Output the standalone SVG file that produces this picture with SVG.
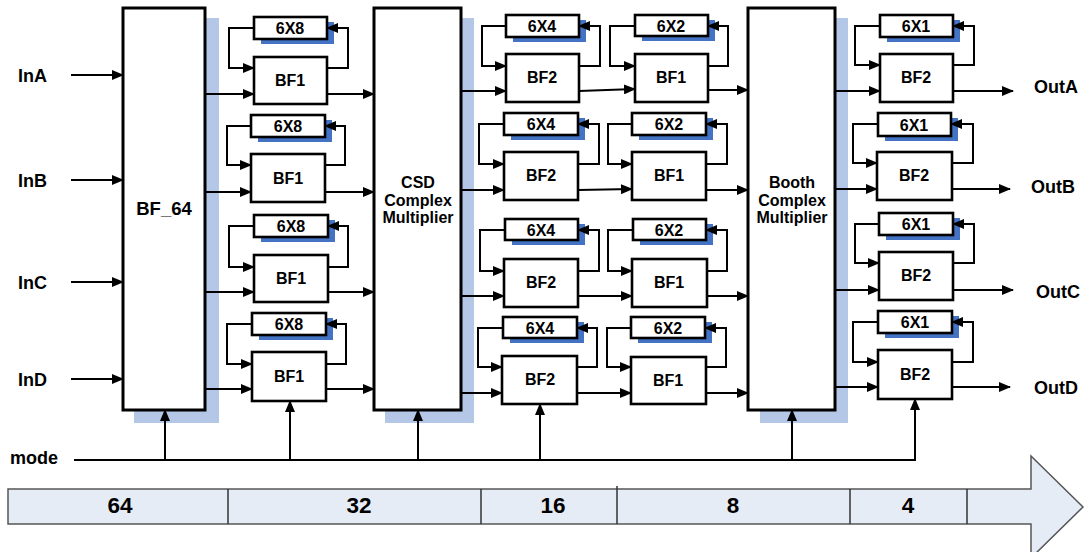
<svg xmlns="http://www.w3.org/2000/svg" width="1086" height="552" viewBox="0 0 1086 552">
<style>
text{font-family:"Liberation Sans",Arial,sans-serif;font-weight:bold;fill:#000}
.big{fill:#fff;stroke:#000;stroke-width:3}
.sh{fill:#b4c7e7}
.reg{fill:#fff;stroke:#000;stroke-width:2.6}
.rsh{fill:#4472c4}
.bf{fill:#fff;stroke:#000;stroke-width:2.6}
.ln{fill:none;stroke:#000;stroke-width:2}
.ar{fill:none;stroke:#000;stroke-width:2;marker-end:url(#ah)}
.t14{font-size:16px;text-anchor:middle}
.t15{font-size:16px;text-anchor:middle}
.t16{font-size:16px;text-anchor:middle}
.lab{font-size:18px}
.num{font-size:22.5px;text-anchor:middle}
</style>
<defs>
<marker id="ah" markerUnits="userSpaceOnUse" markerWidth="12" markerHeight="10" refX="11" refY="5" orient="auto">
<path d="M0,0 L12,5 L0,10 Z" fill="#000"/>
</marker>
</defs>
<rect width="1086" height="552" fill="#fff"/>

<!-- bottom stage arrow -->
<g id="stage-bar">
<polygon points="8,489 1031,489 1031,456 1083,507 1031,558 1031,524 8,524" fill="#e6ecf6" stroke="#555" stroke-width="1.5"/>
<g stroke="#333" stroke-width="1.5">
<line x1="228" y1="489" x2="228" y2="524"/>
<line x1="481" y1="489" x2="481" y2="524"/>
<line x1="617" y1="486" x2="617" y2="524"/>
<line x1="850" y1="489" x2="850" y2="524"/>
<line x1="967" y1="489" x2="967" y2="524"/>
</g>
<text class="num" x="120" y="513">64</text>
<text class="num" x="359" y="513">32</text>
<text class="num" x="553" y="513">16</text>
<text class="num" x="733" y="513">8</text>
<text class="num" x="908" y="513">4</text>
</g>

<!-- big blocks -->
<g id="bf64">
<rect class="sh" x="134" y="18" width="85" height="405"/>
<rect class="big" x="123" y="8" width="82" height="402"/>
<text x="164" y="215" style="font-size:18.5px;text-anchor:middle">BF_64</text>
</g>
<g id="csd">
<rect class="sh" x="385" y="18" width="89" height="405"/>
<rect class="big" x="374" y="8" width="87" height="402"/>
<text class="t16" x="418" y="188">CSD</text>
<text class="t16" x="418" y="206">Complex</text>
<text class="t16" x="418" y="223">Multiplier</text>
</g>
<g id="booth">
<rect class="sh" x="760" y="18" width="88" height="405"/>
<rect class="big" x="748" y="8" width="87" height="402"/>
<text class="t16" x="792" y="188">Booth</text>
<text class="t16" x="792" y="206">Complex</text>
<text class="t16" x="792" y="223">Multiplier</text>
</g>

<!-- stage 1 -->
<g id="s1r1"><rect class="rsh" x="261" y="22" width="73" height="22"/><rect class="reg" x="254" y="17" width="73" height="22"/><text class="t14" x="290" y="34">6X8</text><rect class="bf" x="254" y="57" width="73" height="47"/><text class="t15" x="290" y="86">BF1</text></g>
<g id="s1r2"><rect class="rsh" x="258" y="120" width="74" height="22"/><rect class="reg" x="251" y="115" width="74" height="22"/><text class="t14" x="288" y="132">6X8</text><rect class="bf" x="251" y="154" width="74" height="48"/><text class="t15" x="288" y="184">BF1</text></g>
<g id="s1r3"><rect class="rsh" x="261" y="220" width="74" height="22"/><rect class="reg" x="254" y="215" width="74" height="22"/><text class="t14" x="291" y="232">6X8</text><rect class="bf" x="254" y="255" width="74" height="47"/><text class="t15" x="291" y="284">BF1</text></g>
<g id="s1r4"><rect class="rsh" x="259" y="318" width="74" height="22"/><rect class="reg" x="252" y="313" width="74" height="22"/><text class="t14" x="289" y="330">6X8</text><rect class="bf" x="252" y="352" width="74" height="49"/><text class="t15" x="289" y="382">BF1</text></g>

<!-- stage 2 -->
<g id="s2r1"><rect class="rsh" x="513" y="20" width="73" height="22"/><rect class="reg" x="506" y="15" width="73" height="22"/><text class="t14" x="542" y="32">6X4</text><rect class="bf" x="506" y="54" width="73" height="48"/><text class="t15" x="542" y="83">BF2</text></g>
<g id="s2r2"><rect class="rsh" x="511" y="118" width="74" height="22"/><rect class="reg" x="504" y="113" width="74" height="22"/><text class="t14" x="541" y="130">6X4</text><rect class="bf" x="504" y="152" width="74" height="48"/><text class="t15" x="541" y="181">BF2</text></g>
<g id="s2r3"><rect class="rsh" x="512" y="224" width="73" height="21"/><rect class="reg" x="505" y="219" width="73" height="21"/><text class="t14" x="541" y="236">6X4</text><rect class="bf" x="504" y="259" width="74" height="48"/><text class="t15" x="541" y="288">BF2</text></g>
<g id="s2r4"><rect class="rsh" x="510" y="322" width="74" height="21"/><rect class="reg" x="503" y="317" width="74" height="21"/><text class="t14" x="540" y="334">6X4</text><rect class="bf" x="502" y="356" width="75" height="48"/><text class="t15" x="540" y="385">BF2</text></g>

<!-- stage 3 -->
<g id="s3r1"><rect class="rsh" x="642" y="20" width="73" height="21"/><rect class="reg" x="635" y="15" width="73" height="21"/><text class="t14" x="671" y="32">6X2</text><rect class="bf" x="635" y="54" width="73" height="48"/><text class="t15" x="671" y="83">BF1</text></g>
<g id="s3r2"><rect class="rsh" x="639" y="118" width="74" height="22"/><rect class="reg" x="632" y="113" width="74" height="22"/><text class="t14" x="669" y="130">6X2</text><rect class="bf" x="632" y="152" width="74" height="48"/><text class="t15" x="669" y="181">BF1</text></g>
<g id="s3r3"><rect class="rsh" x="640" y="224" width="73" height="21"/><rect class="reg" x="633" y="219" width="73" height="21"/><text class="t14" x="669" y="236">6X2</text><rect class="bf" x="632" y="259" width="75" height="48"/><text class="t15" x="669" y="288">BF1</text></g>
<g id="s3r4"><rect class="rsh" x="638" y="322" width="74" height="21"/><rect class="reg" x="631" y="317" width="74" height="21"/><text class="t14" x="668" y="334">6X2</text><rect class="bf" x="631" y="357" width="75" height="47"/><text class="t15" x="668" y="386">BF1</text></g>

<!-- stage 4 -->
<g id="s4r1"><rect class="rsh" x="887" y="20" width="73" height="22"/><rect class="reg" x="880" y="15" width="73" height="22"/><text class="t14" x="916" y="32">6X1</text><rect class="bf" x="880" y="54" width="73" height="48"/><text class="t15" x="916" y="83">BF2</text></g>
<g id="s4r2"><rect class="rsh" x="885" y="118" width="73" height="23"/><rect class="reg" x="878" y="113" width="73" height="23"/><text class="t14" x="914" y="131">6X1</text><rect class="bf" x="877" y="152" width="75" height="48"/><text class="t15" x="914" y="181">BF2</text></g>
<g id="s4r3"><rect class="rsh" x="886" y="218" width="74" height="22"/><rect class="reg" x="879" y="213" width="74" height="22"/><text class="t14" x="916" y="230">6X1</text><rect class="bf" x="879" y="252" width="74" height="48"/><text class="t15" x="916" y="281">BF2</text></g>
<g id="s4r4"><rect class="rsh" x="885" y="316" width="74" height="22"/><rect class="reg" x="878" y="311" width="74" height="22"/><text class="t14" x="915" y="328">6X1</text><rect class="bf" x="878" y="350" width="74" height="49"/><text class="t15" x="915" y="380">BF2</text></g>

<!-- labels -->
<g id="labels">
<text class="lab" x="18" y="82">InA</text>
<text class="lab" x="18" y="187">InB</text>
<text class="lab" x="18" y="289">InC</text>
<text class="lab" x="18" y="386">InD</text>
<text class="lab" x="10" y="464">mode</text>
<text class="lab" x="1034" y="93">OutA</text>
<text class="lab" x="1031" y="193">OutB</text>
<text class="lab" x="1036" y="298">OutC</text>
<text class="lab" x="1034" y="394">OutD</text>
</g>

<!-- connectors -->
<g id="connectors">
<!-- inputs -->
<line class="ar" x1="71" y1="75" x2="123" y2="75"/>
<line class="ar" x1="71" y1="180" x2="123" y2="180"/>
<line class="ar" x1="71" y1="282" x2="123" y2="282"/>
<line class="ar" x1="71" y1="379" x2="123" y2="379"/>
<!-- BF64 -> stage1 -->
<line class="ar" x1="205" y1="94" x2="254" y2="94"/>
<line class="ar" x1="205" y1="192" x2="251" y2="192"/>
<line class="ar" x1="205" y1="292" x2="254" y2="292"/>
<line class="ar" x1="205" y1="389" x2="252" y2="389"/>
<!-- stage1 -> CSD -->
<line class="ar" x1="327" y1="94" x2="374" y2="94"/>
<line class="ar" x1="325" y1="192" x2="374" y2="192"/>
<line class="ar" x1="328" y1="292" x2="374" y2="292"/>
<line class="ar" x1="326" y1="389" x2="374" y2="389"/>
<!-- CSD -> stage2 -->
<line class="ar" x1="461" y1="91" x2="506" y2="91"/>
<line class="ar" x1="461" y1="190" x2="504" y2="190"/>
<line class="ar" x1="461" y1="296" x2="504" y2="296"/>
<line class="ar" x1="461" y1="393" x2="502" y2="393"/>
<!-- stage2 -> stage3 -->
<line class="ar" x1="579" y1="91" x2="635" y2="89"/>
<line class="ar" x1="578" y1="190" x2="632" y2="189"/>
<line class="ar" x1="578" y1="296" x2="632" y2="296"/>
<line class="ar" x1="577" y1="393" x2="631" y2="393"/>
<!-- stage3 -> Booth -->
<line class="ar" x1="708" y1="90" x2="748" y2="90"/>
<line class="ar" x1="706" y1="190" x2="748" y2="190"/>
<line class="ar" x1="707" y1="296" x2="748" y2="296"/>
<line class="ar" x1="706" y1="393" x2="748" y2="393"/>
<!-- Booth -> stage4 -->
<line class="ar" x1="835" y1="91" x2="880" y2="91"/>
<line class="ar" x1="835" y1="189" x2="877" y2="189"/>
<line class="ar" x1="835" y1="290" x2="879" y2="290"/>
<line class="ar" x1="835" y1="387" x2="878" y2="387"/>
<!-- outputs -->
<line class="ar" x1="953" y1="91" x2="1013" y2="91"/>
<line class="ar" x1="952" y1="189" x2="1010" y2="189"/>
<line class="ar" x1="953" y1="290" x2="1013" y2="290"/>
<line class="ar" x1="952" y1="387" x2="1010" y2="387"/>

<!-- feedback loops stage1 -->
<polyline class="ar" points="254,28 229,28 229,68 254,68"/>
<polyline class="ar" points="327,68 348,68 348,28 327,28"/>
<polyline class="ar" points="251,126 227,126 227,165 251,165"/>
<polyline class="ar" points="325,165 345,165 345,126 325,126"/>
<polyline class="ar" points="254,226 229,226 229,267 254,267"/>
<polyline class="ar" points="328,267 348,267 348,226 328,226"/>
<polyline class="ar" points="252,324 227,324 227,364 252,364"/>
<polyline class="ar" points="326,364 346,364 346,324 326,324"/>
<!-- stage2 -->
<polyline class="ar" points="506,26 482,26 482,66 506,66"/>
<polyline class="ar" points="579,66 600,66 600,26 579,26"/>
<polyline class="ar" points="504,124 479,124 479,164 504,164"/>
<polyline class="ar" points="578,164 599,164 599,124 578,124"/>
<polyline class="ar" points="505,230 480,230 480,271 504,271"/>
<polyline class="ar" points="578,271 599,271 599,230 578,230"/>
<polyline class="ar" points="503,328 478,328 478,367 502,367"/>
<polyline class="ar" points="577,367 597,367 597,328 577,328"/>
<!-- stage3 -->
<polyline class="ar" points="635,26 610,26 610,66 635,66"/>
<polyline class="ar" points="708,66 728,66 728,26 708,26"/>
<polyline class="ar" points="632,124 608,124 608,164 632,164"/>
<polyline class="ar" points="706,164 727,164 727,124 706,124"/>
<polyline class="ar" points="633,230 608,230 608,271 632,271"/>
<polyline class="ar" points="707,271 727,271 727,230 706,230"/>
<polyline class="ar" points="631,328 607,328 607,367 631,367"/>
<polyline class="ar" points="706,367 726,367 726,328 705,328"/>
<!-- stage4 -->
<polyline class="ar" points="880,26 855,26 855,65 880,65"/>
<polyline class="ar" points="953,65 974,65 974,26 953,26"/>
<polyline class="ar" points="878,124 853,124 853,163 877,163"/>
<polyline class="ar" points="952,163 973,163 973,124 951,124"/>
<polyline class="ar" points="879,224 855,224 855,263 879,263"/>
<polyline class="ar" points="953,263 974,263 974,224 953,224"/>
<polyline class="ar" points="878,322 853,322 853,362 878,362"/>
<polyline class="ar" points="952,362 973,362 973,322 952,322"/>

<!-- mode bus -->
<line class="ln" x1="74" y1="460" x2="915" y2="460"/>
<line class="ar" x1="165" y1="460" x2="165" y2="410"/>
<line class="ar" x1="290" y1="460" x2="290" y2="401"/>
<line class="ar" x1="418" y1="460" x2="418" y2="410"/>
<line class="ar" x1="540" y1="460" x2="540" y2="404"/>
<line class="ar" x1="792" y1="460" x2="792" y2="410"/>
<line class="ar" x1="915" y1="461" x2="915" y2="399"/>
</g>
</svg>
